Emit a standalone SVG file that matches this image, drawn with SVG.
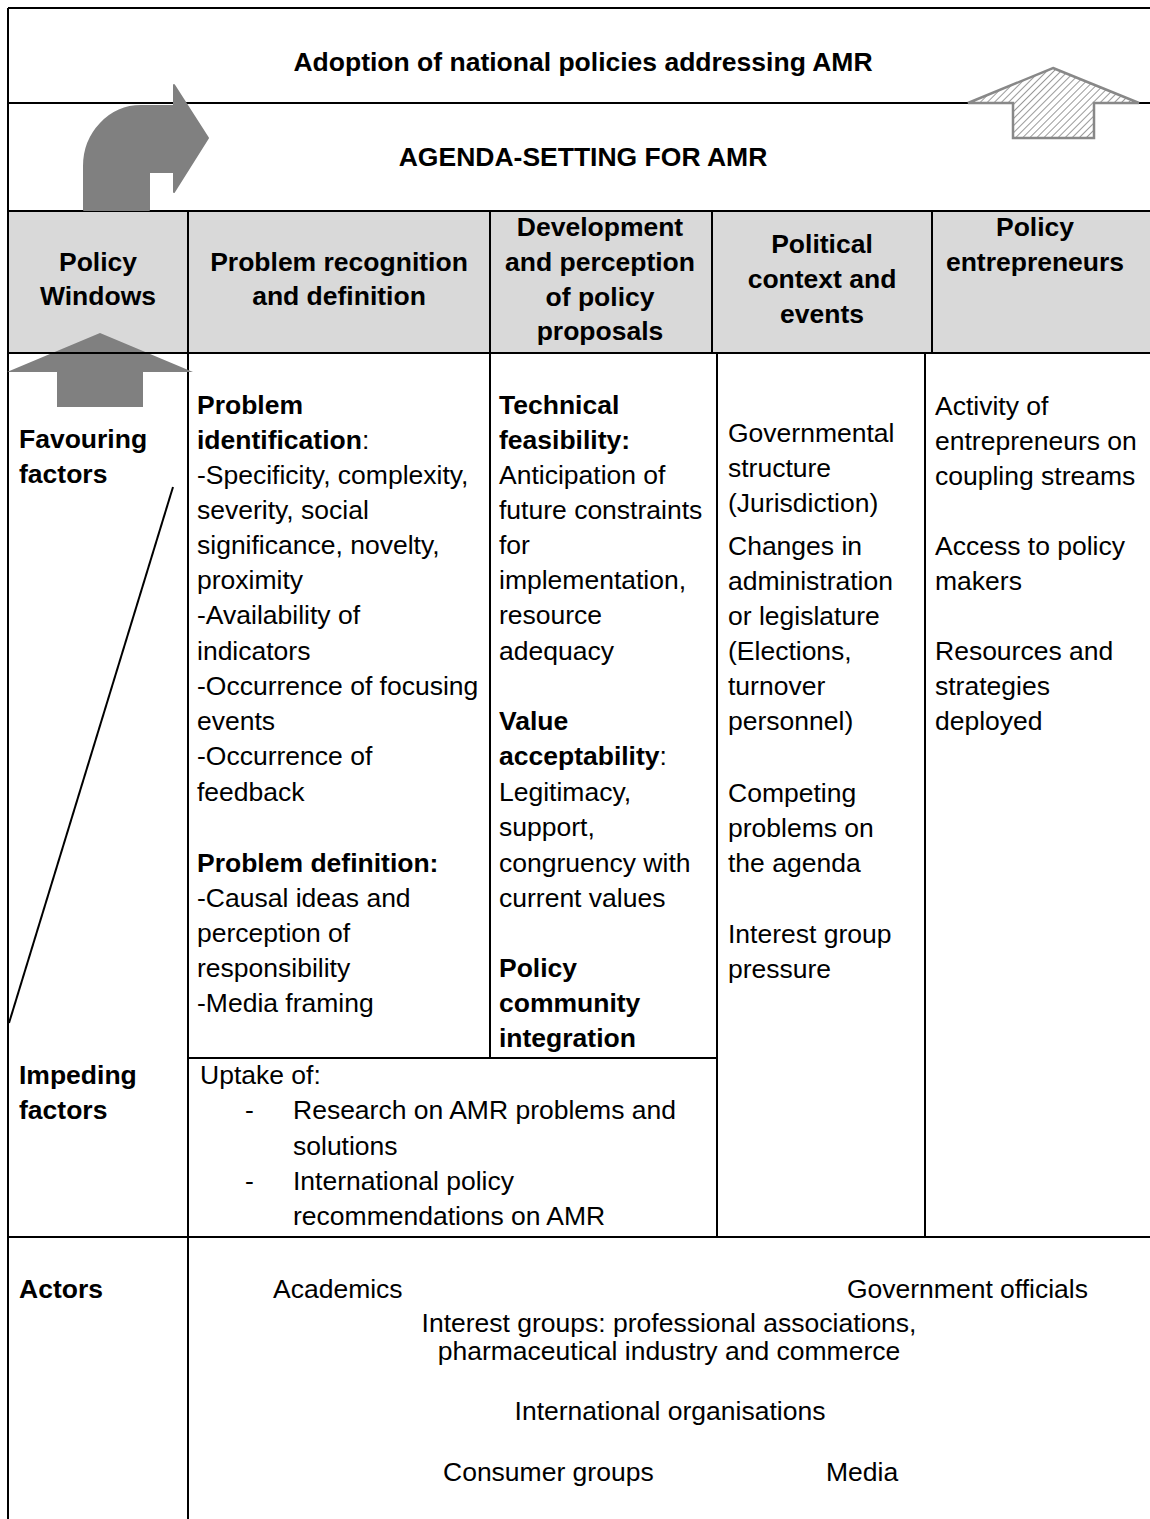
<svg xmlns="http://www.w3.org/2000/svg" width="1150" height="1519" viewBox="0 0 1150 1519">
<style>
.t{font-family:"Liberation Sans",Arial,sans-serif;font-size:26.5px;fill:#000}
.b{font-weight:bold}
.c{text-anchor:middle}
.e{text-anchor:end}
.ln{stroke:#000;stroke-width:2;fill:none}
.arr{fill:#808080}
</style>
<defs>
<pattern id="hatch" patternUnits="userSpaceOnUse" width="5" height="5" patternTransform="rotate(45)">
<rect width="5" height="5" fill="#fff"/>
<line x1="0" y1="0" x2="0" y2="5" stroke="#9a9a9a" stroke-width="2"/>
</pattern>
</defs>
<rect width="1150" height="1519" fill="#fff"/>
<rect x="8" y="211" width="1142" height="142" fill="#d9d9d9"/>

<g id="connectors">
<line class="ln" x1="8" y1="8" x2="1150" y2="8"/>
<line class="ln" x1="8" y1="8" x2="8" y2="1519"/>
<line class="ln" x1="8" y1="103" x2="1150" y2="103"/>
<line class="ln" x1="8" y1="211" x2="1150" y2="211"/>
<line class="ln" x1="188" y1="211" x2="188" y2="1519"/>
<line class="ln" x1="490" y1="211" x2="490" y2="353"/>
<line class="ln" x1="712" y1="211" x2="712" y2="353"/>
<line class="ln" x1="932" y1="211" x2="932" y2="353"/>
<line class="ln" x1="490" y1="353" x2="490" y2="1058"/>
<line class="ln" x1="717" y1="353" x2="717" y2="1237"/>
<line class="ln" x1="925" y1="353" x2="925" y2="1237"/>
<line class="ln" x1="188" y1="1058" x2="717" y2="1058"/>
<line class="ln" x1="8" y1="1237" x2="1150" y2="1237"/>
<line class="ln" x1="173" y1="487" x2="9" y2="1023"/>
</g>

<g id="arrow-up-left">
<polygon class="arr" points="100,333 193,372 143,372 143,407 57,407 57,372 7,372"/>
</g>
<line class="ln" x1="8" y1="353" x2="1150" y2="353"/>

<g id="arrow-curved">
<path class="arr" stroke="#808080" stroke-width="2" stroke-linejoin="round" d="M84 210 L84 166 A57 60 0 0 1 141 106 L174 106 L174 85 L208 138 L174 192 L174 172 L149 172 L149 210 Z"/>
</g>
<g id="arrow-hatched">
<polygon points="1053,68 1139,103 1094,103 1094,138 1013,138 1013,103 968,103" fill="url(#hatch)" stroke="#888" stroke-width="2.5"/>
</g>

<g id="title">
<text class="t b c" x="583" y="71">Adoption of national policies addressing AMR</text>
</g>
<g id="agenda">
<text class="t b c" x="583" y="166">AGENDA-SETTING FOR AMR</text>
</g>

<g id="h-policy-windows">
<text class="t b c" x="98" y="271">Policy</text>
<text class="t b c" x="98" y="305">Windows</text>
</g>
<g id="h-problem">
<text class="t b c" x="339" y="271">Problem recognition</text>
<text class="t b c" x="339" y="305">and definition</text>
</g>
<g id="h-development">
<text class="t b c" x="600" y="236">Development</text>
<text class="t b c" x="600" y="271">and perception</text>
<text class="t b c" x="600" y="306">of policy</text>
<text class="t b c" x="600" y="340">proposals</text>
</g>
<g id="h-political">
<text class="t b c" x="822" y="253">Political</text>
<text class="t b c" x="822" y="288">context and</text>
<text class="t b c" x="822" y="323">events</text>
</g>
<g id="h-entrepreneurs">
<text class="t b c" x="1035" y="236">Policy</text>
<text class="t b c" x="1035" y="271">entrepreneurs</text>
</g>

<g id="favouring">
<text class="t b" x="19" y="448">Favouring</text>
<text class="t b" x="19" y="483"> factors</text>
</g>
<g id="impeding">
<text class="t b" x="19" y="1084">Impeding</text>
<text class="t b" x="19" y="1119">factors</text>
</g>

<g id="problem-body">
<text class="t b" x="197" y="414">Problem</text>
<text class="t" x="197" y="449"><tspan class="b">identification</tspan>:</text>
<text class="t" x="197" y="484">-Specificity, complexity,</text>
<text class="t" x="197" y="519">severity, social</text>
<text class="t" x="197" y="554">significance, novelty,</text>
<text class="t" x="197" y="589">proximity</text>
<text class="t" x="197" y="624">-Availability of</text>
<text class="t" x="197" y="660">indicators</text>
<text class="t" x="197" y="695">-Occurrence of focusing</text>
<text class="t" x="197" y="730">events</text>
<text class="t" x="197" y="765">-Occurrence of</text>
<text class="t" x="197" y="801">feedback</text>
<text class="t b" x="197" y="872">Problem definition:</text>
<text class="t" x="197" y="907">-Causal ideas and</text>
<text class="t" x="197" y="942">perception of</text>
<text class="t" x="197" y="977">responsibility</text>
<text class="t" x="197" y="1012">-Media framing</text>
</g>

<g id="development-body">
<text class="t b" x="499" y="414">Technical</text>
<text class="t b" x="499" y="449">feasibility:</text>
<text class="t" x="499" y="484">Anticipation of</text>
<text class="t" x="499" y="519">future constraints</text>
<text class="t" x="499" y="554">for</text>
<text class="t" x="499" y="589">implementation,</text>
<text class="t" x="499" y="624">resource</text>
<text class="t" x="499" y="660">adequacy</text>
<text class="t b" x="499" y="730">Value</text>
<text class="t" x="499" y="765"><tspan class="b">acceptability</tspan>:</text>
<text class="t" x="499" y="801">Legitimacy,</text>
<text class="t" x="499" y="836">support,</text>
<text class="t" x="499" y="872">congruency with</text>
<text class="t" x="499" y="907">current values</text>
<text class="t b" x="499" y="977">Policy</text>
<text class="t b" x="499" y="1012">community</text>
<text class="t b" x="499" y="1047">integration</text>
</g>

<g id="political-body">
<text class="t" x="728" y="442">Governmental</text>
<text class="t" x="728" y="477">structure</text>
<text class="t" x="728" y="512">(Jurisdiction)</text>
<text class="t" x="728" y="555">Changes in</text>
<text class="t" x="728" y="590">administration</text>
<text class="t" x="728" y="625">or legislature</text>
<text class="t" x="728" y="660">(Elections,</text>
<text class="t" x="728" y="695">turnover</text>
<text class="t" x="728" y="730">personnel)</text>
<text class="t" x="728" y="802">Competing</text>
<text class="t" x="728" y="837">problems on</text>
<text class="t" x="728" y="872">the agenda</text>
<text class="t" x="728" y="943">Interest group</text>
<text class="t" x="728" y="978">pressure</text>
</g>

<g id="entrepreneurs-body">
<text class="t" x="935" y="415">Activity of</text>
<text class="t" x="935" y="450">entrepreneurs on</text>
<text class="t" x="935" y="485">coupling streams</text>
<text class="t" x="935" y="555">Access to policy</text>
<text class="t" x="935" y="590">makers</text>
<text class="t" x="935" y="660">Resources and</text>
<text class="t" x="935" y="695">strategies</text>
<text class="t" x="935" y="730">deployed</text>
</g>

<g id="impeding-body">
<text class="t" x="200" y="1084">Uptake of:</text>
<text class="t" x="245" y="1119">-</text>
<text class="t" x="293" y="1119">Research on AMR problems and</text>
<text class="t" x="293" y="1155">solutions</text>
<text class="t" x="245" y="1190">-</text>
<text class="t" x="293" y="1190">International policy</text>
<text class="t" x="293" y="1225">recommendations on AMR</text>
</g>

<g id="actors">
<text class="t b" x="19" y="1298">Actors</text>
<text class="t" x="273" y="1298">Academics</text>
<text class="t e" x="1088" y="1298">Government officials</text>
<text class="t c" x="669" y="1332">Interest groups: professional associations,</text>
<text class="t c" x="669" y="1360">pharmaceutical industry and commerce</text>
<text class="t c" x="670" y="1420">International organisations</text>
<text class="t" x="443" y="1481">Consumer groups</text>
<text class="t" x="826" y="1481">Media</text>
</g>
</svg>
